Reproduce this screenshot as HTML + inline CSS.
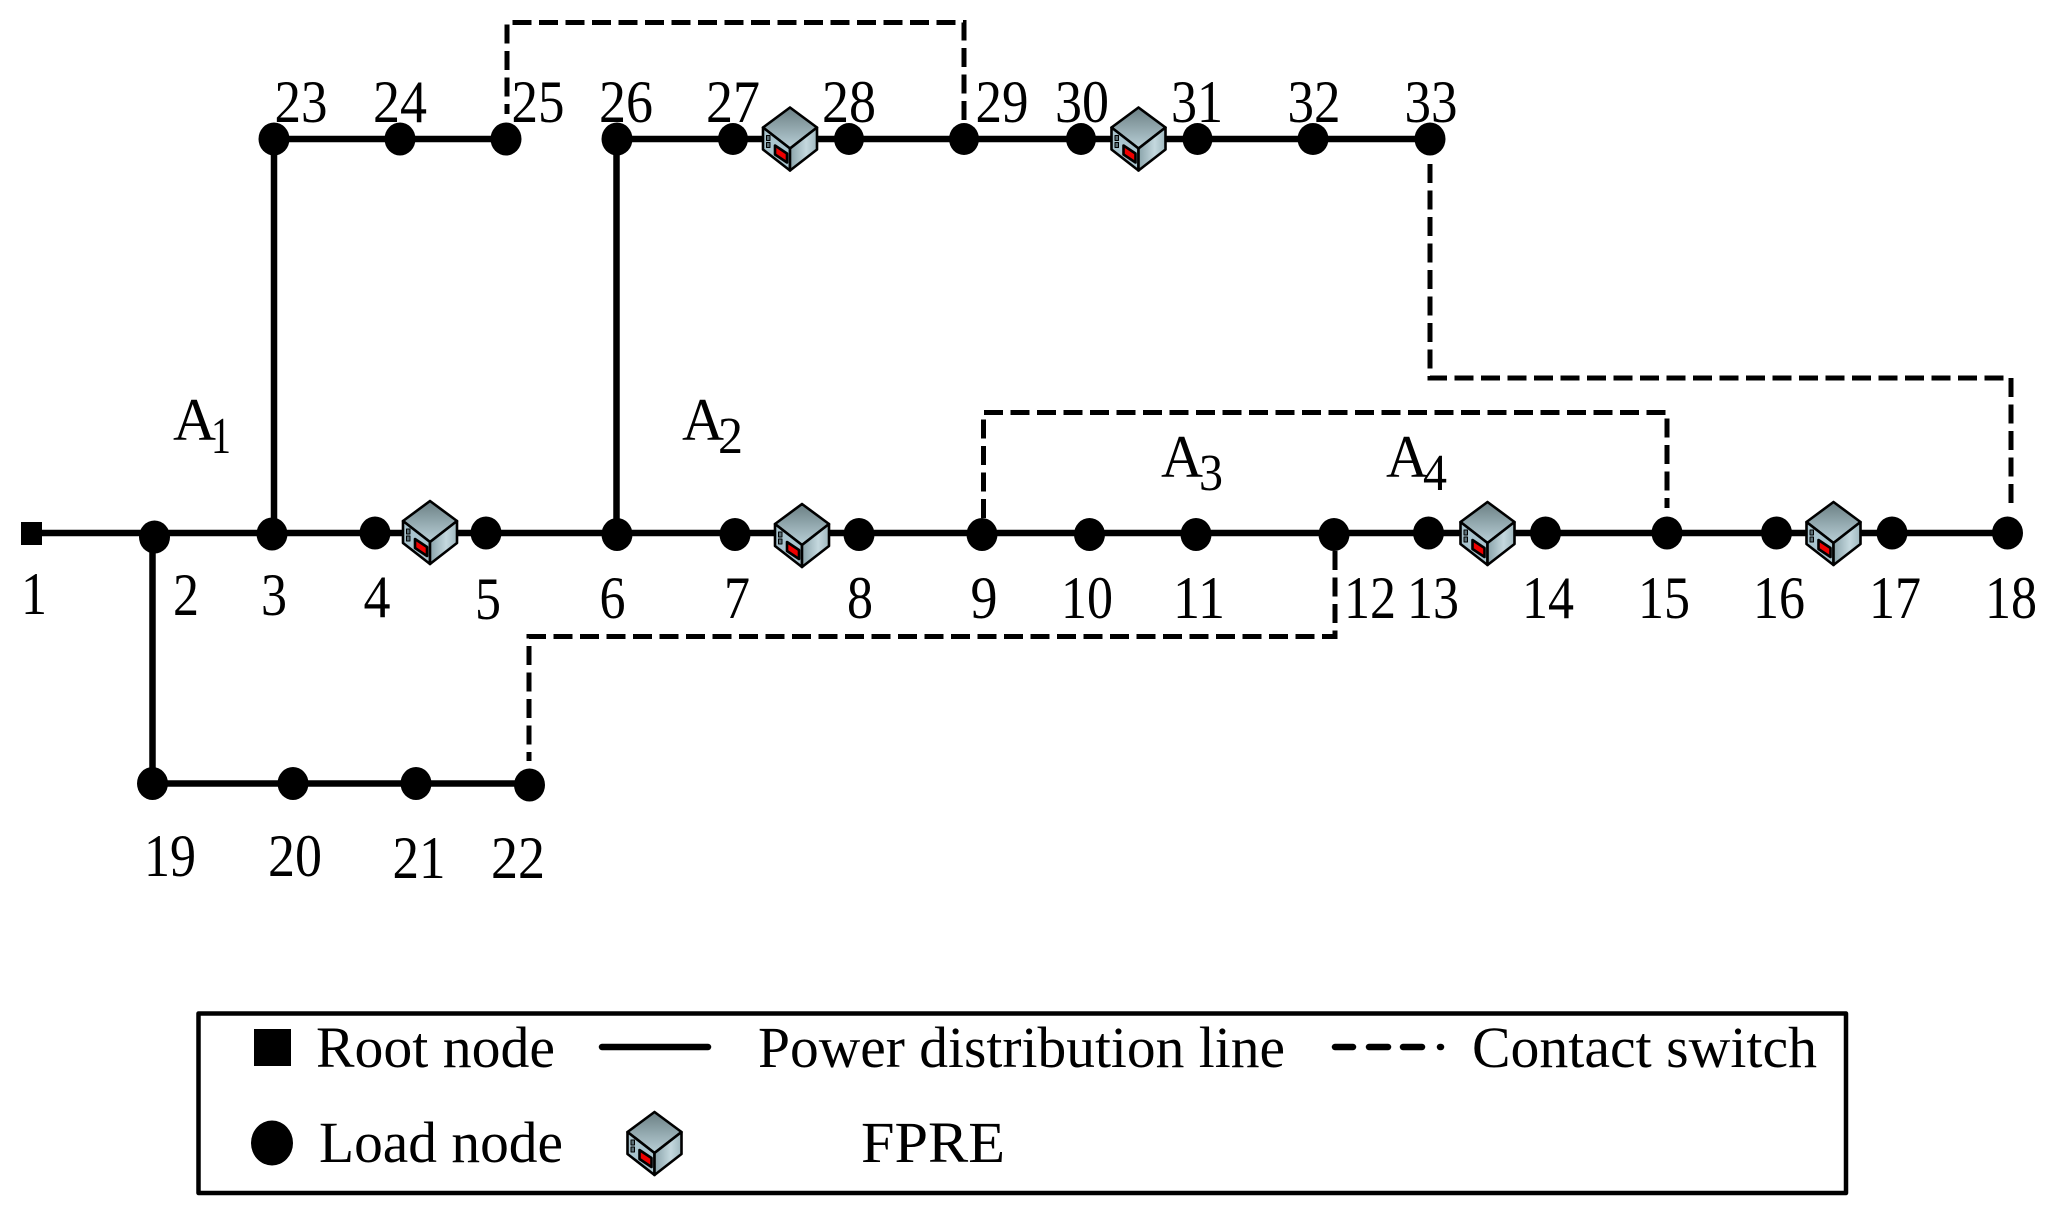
<!DOCTYPE html>
<html>
<head>
<meta charset="utf-8">
<style>
html,body{margin:0;padding:0;background:#fff}
svg{display:block}
text{font-family:"Liberation Serif",serif;fill:#000}
.n text,text.n{font-size:60px;text-anchor:middle}
</style>
</head>
<body>
<svg width="2052" height="1216" viewBox="0 0 2052 1216" xmlns="http://www.w3.org/2000/svg">
<defs>
<linearGradient id="gt" x1="0" y1="0" x2="0" y2="1"><stop offset="0" stop-color="#6b7f84"/><stop offset="1" stop-color="#b9d0d7"/></linearGradient>
<linearGradient id="gr" x1="0" y1="0" x2="1" y2="0"><stop offset="0" stop-color="#8aa3aa"/><stop offset=".6" stop-color="#c4d8de"/><stop offset="1" stop-color="#9fb8bf"/></linearGradient>
<g id="cube" stroke="#000" stroke-width="2.6" stroke-linejoin="round">
<polygon points="0,0 -27,20 0,41 27,20" fill="url(#gt)"/>
<polygon points="-27,20 0,41 0,63 -27,42" fill="#a9c4ce"/>
<polygon points="27,20 0,41 0,63 27,42" fill="url(#gr)"/>
<polygon points="-15,38 -3,46 -3,55 -15,47" fill="#f00000"/>
<rect x="-23.500" y="28" width="3.500" height="5" fill="#5b6f76" stroke-width="1"/>
<rect x="-23.500" y="35" width="3.500" height="5" fill="#5b6f76" stroke-width="1"/>
</g>
</defs>
<rect width="2052" height="1216" fill="#fff"/>

<!-- solid lines -->
<g fill="none" stroke="#000" stroke-width="6.500">
<path d="M30 533H2008"/>
<path d="M274 139H506"/>
<path d="M617 139H1430"/>
<path d="M274 139V534"/>
<path d="M616.500 139V534"/>
<path d="M152.500 537V784"/>
<path d="M152.500 783.500H529.500"/>
</g>

<!-- dashed lines -->
<g fill="none" stroke="#000" stroke-width="5" stroke-dasharray="19 7.500">
<path d="M964 120V22.500H507V114"/>
<path d="M983.500 518V412.500H1667V508"/>
<path d="M1430 164V378H2011V510"/>
<path d="M1335 551V636.500H529V761"/>
</g>

<!-- root -->
<rect x="21" y="522" width="21" height="23" fill="#000"/>

<!-- nodes -->
<g fill="#000">
<ellipse cx="154.500" cy="537" rx="15.500" ry="16.500"/>
<ellipse cx="272" cy="534" rx="15.500" ry="16.500"/>
<ellipse cx="375" cy="533" rx="15.500" ry="16.500"/>
<ellipse cx="486" cy="533" rx="15.500" ry="16.500"/>
<ellipse cx="617" cy="534.500" rx="15.500" ry="16.500"/>
<ellipse cx="735" cy="534.500" rx="15.500" ry="16.500"/>
<ellipse cx="859" cy="534.500" rx="15.500" ry="16.500"/>
<ellipse cx="982" cy="534.500" rx="15.500" ry="16.500"/>
<ellipse cx="1089.500" cy="534.500" rx="15.500" ry="16.500"/>
<ellipse cx="1196" cy="534.500" rx="15.500" ry="16.500"/>
<ellipse cx="1334" cy="534.500" rx="15.500" ry="16.500"/>
<ellipse cx="1428.500" cy="533" rx="15.500" ry="16.500"/>
<ellipse cx="1545.500" cy="533" rx="15.500" ry="16.500"/>
<ellipse cx="1667" cy="533" rx="15.500" ry="16.500"/>
<ellipse cx="1776.500" cy="533" rx="15.500" ry="16.500"/>
<ellipse cx="1892" cy="533" rx="15.500" ry="16.500"/>
<ellipse cx="2007.500" cy="533" rx="15.500" ry="16.500"/>
<ellipse cx="274" cy="139" rx="15.500" ry="16.500"/>
<ellipse cx="400" cy="139" rx="15.500" ry="16.500"/>
<ellipse cx="506" cy="139" rx="15.500" ry="16.500"/>
<ellipse cx="617" cy="139" rx="15.500" ry="16.500"/>
<ellipse cx="733" cy="139" rx="15" ry="16"/>
<ellipse cx="849" cy="139" rx="15" ry="16"/>
<ellipse cx="964" cy="139" rx="15" ry="16"/>
<ellipse cx="1081" cy="139" rx="15" ry="16"/>
<ellipse cx="1197.500" cy="139" rx="15" ry="16"/>
<ellipse cx="1313" cy="139" rx="15.500" ry="16"/>
<ellipse cx="1430" cy="139" rx="15.500" ry="16.500"/>
<ellipse cx="152.500" cy="783.500" rx="15.500" ry="16.500"/>
<ellipse cx="293" cy="783.500" rx="15.500" ry="16.500"/>
<ellipse cx="416" cy="783.500" rx="15.500" ry="16.500"/>
<ellipse cx="529.500" cy="785" rx="15.500" ry="16.500"/>
</g>

<!-- FPRE cubes -->
<use href="#cube" x="430" y="501"/>
<use href="#cube" x="802" y="504"/>
<use href="#cube" x="790" y="107.500"/>
<use href="#cube" x="1138.500" y="107.500"/>
<use href="#cube" x="1487.500" y="502"/>
<use href="#cube" x="1833.500" y="502"/>
<use href="#cube" x="654.500" y="1112"/>

<!-- node labels -->
<g class="n">
<text x="301" y="122" textLength="53" lengthAdjust="spacingAndGlyphs">23</text>
<text x="400" y="122" textLength="54" lengthAdjust="spacingAndGlyphs">24</text>
<text x="538" y="122" textLength="53" lengthAdjust="spacingAndGlyphs">25</text>
<text x="626" y="122" textLength="54" lengthAdjust="spacingAndGlyphs">26</text>
<text x="733" y="122" textLength="54" lengthAdjust="spacingAndGlyphs">27</text>
<text x="849" y="122" textLength="54" lengthAdjust="spacingAndGlyphs">28</text>
<text x="1002" y="122" textLength="53" lengthAdjust="spacingAndGlyphs">29</text>
<text x="1082" y="122" textLength="54" lengthAdjust="spacingAndGlyphs">30</text>
<text x="1197" y="122" textLength="52" lengthAdjust="spacingAndGlyphs">31</text>
<text x="1314" y="122" textLength="53" lengthAdjust="spacingAndGlyphs">32</text>
<text x="1431" y="122" textLength="53" lengthAdjust="spacingAndGlyphs">33</text>

<text x="34" y="614" textLength="26" lengthAdjust="spacingAndGlyphs">1</text>
<text x="186" y="615" textLength="26" lengthAdjust="spacingAndGlyphs">2</text>
<text x="274" y="615" textLength="26" lengthAdjust="spacingAndGlyphs">3</text>
<text x="377" y="617" textLength="27" lengthAdjust="spacingAndGlyphs">4</text>
<text x="488" y="619" textLength="26" lengthAdjust="spacingAndGlyphs">5</text>
<text x="612.500" y="618" textLength="26" lengthAdjust="spacingAndGlyphs">6</text>
<text x="737" y="618" textLength="26" lengthAdjust="spacingAndGlyphs">7</text>
<text x="860" y="618" textLength="26" lengthAdjust="spacingAndGlyphs">8</text>
<text x="984" y="618" textLength="27" lengthAdjust="spacingAndGlyphs">9</text>
<text x="1087" y="618" textLength="52" lengthAdjust="spacingAndGlyphs">10</text>
<text x="1199" y="618" textLength="52" lengthAdjust="spacingAndGlyphs">11</text>
<text x="1370" y="618" textLength="52" lengthAdjust="spacingAndGlyphs">12</text>
<text x="1433" y="618" textLength="52" lengthAdjust="spacingAndGlyphs">13</text>
<text x="1548" y="618" textLength="52" lengthAdjust="spacingAndGlyphs">14</text>
<text x="1664" y="618" textLength="52" lengthAdjust="spacingAndGlyphs">15</text>
<text x="1779" y="618" textLength="52" lengthAdjust="spacingAndGlyphs">16</text>
<text x="1895" y="618" textLength="52" lengthAdjust="spacingAndGlyphs">17</text>
<text x="2011" y="618" textLength="52" lengthAdjust="spacingAndGlyphs">18</text>

<text x="170" y="876" textLength="52" lengthAdjust="spacingAndGlyphs">19</text>
<text x="295" y="876" textLength="54" lengthAdjust="spacingAndGlyphs">20</text>
<text x="419" y="878" textLength="53" lengthAdjust="spacingAndGlyphs">21</text>
<text x="518" y="878" textLength="54" lengthAdjust="spacingAndGlyphs">22</text>
</g>

<!-- area labels -->
<g>
<text x="173" y="440" font-size="60" textLength="43" lengthAdjust="spacingAndGlyphs">A</text>
<text x="211" y="453" font-size="52" textLength="20" lengthAdjust="spacingAndGlyphs">1</text>
<text x="682" y="440" font-size="60" textLength="42" lengthAdjust="spacingAndGlyphs">A</text>
<text x="718" y="453" font-size="52" textLength="25" lengthAdjust="spacingAndGlyphs">2</text>
<text x="1161" y="477" font-size="60" textLength="42" lengthAdjust="spacingAndGlyphs">A</text>
<text x="1199" y="490" font-size="52" textLength="24" lengthAdjust="spacingAndGlyphs">3</text>
<text x="1386" y="477" font-size="60" textLength="42" lengthAdjust="spacingAndGlyphs">A</text>
<text x="1423" y="490" font-size="52" textLength="24" lengthAdjust="spacingAndGlyphs">4</text>
</g>

<!-- legend -->
<rect x="198.500" y="1013.500" width="1647.500" height="179.500" fill="none" stroke="#000" stroke-width="4.500" stroke-linejoin="round"/>
<rect x="254" y="1029" width="37" height="37" fill="#000"/>
<ellipse cx="272" cy="1143" rx="21" ry="22.500" fill="#000"/>
<line x1="602" y1="1047" x2="708" y2="1047" stroke="#000" stroke-width="6.500" stroke-linecap="round"/>
<g stroke="#000" stroke-width="6.500" stroke-linecap="round">
<line x1="1335" y1="1047" x2="1353" y2="1047"/>
<line x1="1369" y1="1047" x2="1388" y2="1047"/>
<line x1="1403" y1="1047" x2="1422" y2="1047"/>
<line x1="1440" y1="1047" x2="1441" y2="1047"/>
</g>
<text x="316" y="1067" font-size="58" textLength="239" lengthAdjust="spacingAndGlyphs">Root node</text>
<text x="758" y="1067" font-size="58" textLength="527" lengthAdjust="spacingAndGlyphs">Power distribution line</text>
<text x="1472" y="1067" font-size="58" textLength="345" lengthAdjust="spacingAndGlyphs">Contact switch</text>
<text x="319" y="1162" font-size="58" textLength="244" lengthAdjust="spacingAndGlyphs">Load node</text>
<text x="861" y="1162" font-size="58" textLength="144" lengthAdjust="spacingAndGlyphs">FPRE</text>
</svg>
</body>
</html>
